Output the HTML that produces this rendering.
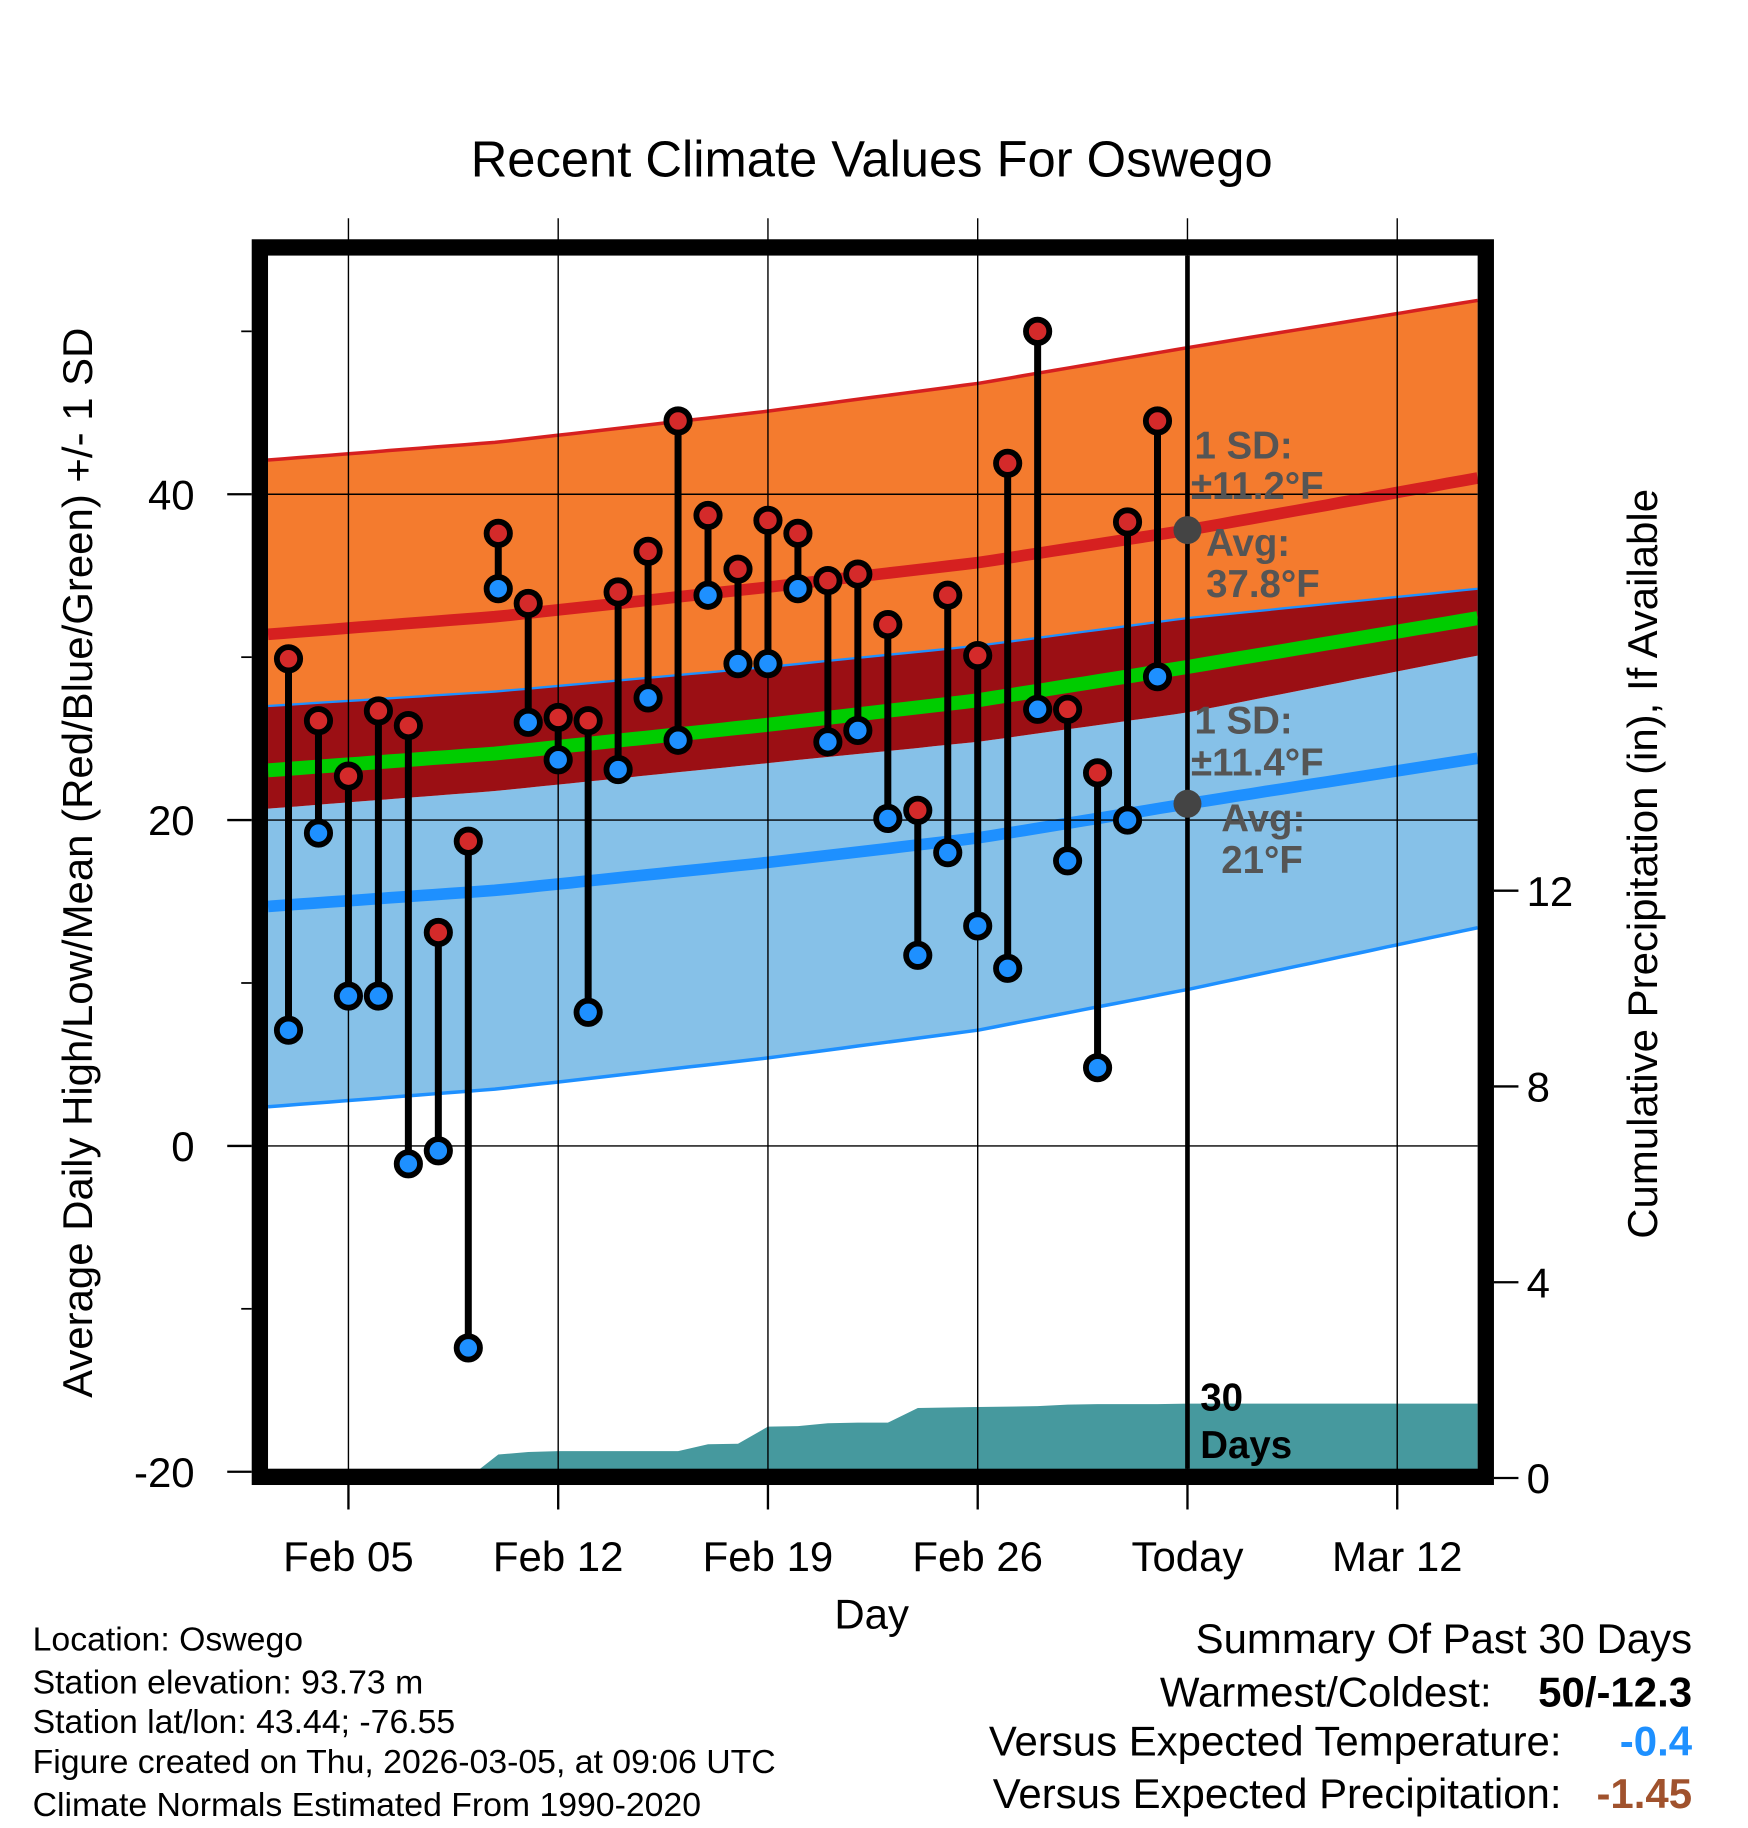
<!DOCTYPE html>
<html><head><meta charset="utf-8"><style>
html,body{margin:0;padding:0;background:#fff;}
svg{display:block;font-family:"Liberation Sans",sans-serif;}
</style></head><body>
<svg id="chart" xmlns="http://www.w3.org/2000/svg" width="1748" height="1828" viewBox="0 0 1500 1568">
<rect width="1500" height="1568" fill="#fff"/>
<g id="bands"></g>
<g id="precip"></g>
<g id="grid"></g>
<g id="marks"></g>
<g id="axes"></g>
<text x="748" y="151" font-size="43.5" text-anchor="middle">Recent Climate Values For Oswego</text>
<text x="748" y="1397" font-size="36" text-anchor="middle">Day</text>
<text transform="translate(79,740) rotate(-90)" font-size="36" text-anchor="middle">Average Daily High/Low/Mean (Red/Blue/Green) +/- 1 SD</text>
<text transform="translate(1422,741) rotate(-90)" font-size="36" text-anchor="middle">Cumulative Precipitation (in), If Available</text>
<g font-size="33" font-weight="bold" fill="#555">
<text x="1025" y="393">1 SD:</text><text x="1022" y="428">±11.2°F</text>
<text x="1035" y="477">Avg:</text><text x="1035" y="512">37.8°F</text></g>
<g font-size="33" font-weight="bold" fill="#555">
<text x="1025" y="629">1 SD:</text><text x="1022" y="665">±11.4°F</text>
<text x="1048" y="713">Avg:</text><text x="1048" y="749">21°F</text></g>
<g font-size="33" font-weight="bold" fill="#000">
<text x="1030" y="1210">30</text><text x="1030" y="1251">Days</text></g>
<g font-size="29">
<text x="28" y="1416">Location: Oswego</text>
<text x="28" y="1453">Station elevation: 93.73 m</text>
<text x="28" y="1487">Station lat/lon: 43.44; -76.55</text>
<text x="28" y="1521">Figure created on Thu, 2026-03-05, at 09:06 UTC</text>
<text x="28" y="1558">Climate Normals Estimated From 1990-2020</text></g>
<g font-size="36">
<text x="1452" y="1418" text-anchor="end">Summary Of Past 30 Days</text>
<text x="1280" y="1464" text-anchor="end">Warmest/Coldest:</text>
<text x="1452" y="1464" text-anchor="end" font-weight="bold">50/-12.3</text>
<text x="1340" y="1506" text-anchor="end">Versus Expected Temperature:</text>
<text x="1452" y="1506" text-anchor="end" font-weight="bold" fill="#1e90ff">-0.4</text>
<text x="1340" y="1551" text-anchor="end">Versus Expected Precipitation:</text>
<text x="1452" y="1551" text-anchor="end" font-weight="bold" fill="#a0522d">-1.45</text></g>
</svg>
<script>
const days = [3,4,5,6,7,8,9,10,11,12,13,14,15,16,17,18,19,20,21,22,23,24,25,26,27,28,29,30,31,32];
const highs = [29.9,26.1,22.7,26.7,25.8,13.1,18.7,37.6,33.3,26.3,26.1,34.0,36.5,44.5,38.7,35.4,38.4,37.6,34.7,35.1,32.0,20.6,33.8,30.1,41.9,50.0,26.8,22.9,38.3,44.5];
const lows = [7.1,19.2,9.2,9.2,-1.1,-0.3,-12.4,34.2,26.0,23.7,8.2,23.1,27.5,24.9,33.8,29.6,29.6,34.2,24.8,25.5,20.1,11.7,18.0,13.5,10.9,26.8,17.5,4.8,20.0,28.8];
const normDays = [2.3,10,19,26,33,42.7];
const normHigh = [31.4,32.5,34.3,35.8,37.8,41.0];
const sdHigh = [10.7,10.7,10.8,11.0,11.2,10.9];
const normLow = [14.7,15.7,17.4,18.9,21.0,23.8];
const sdLow = [12.3,12.2,12.0,11.8,11.4,10.4];
const precipDays = [3,4,5,6,7,8,9,10,11,12,13,14,15,16,17,18,19,20,21,22,23,24,25,26,27,28,29,30,31,32,33];
const precipVals = [0,0,0,0,0,0,0,0.48,0.53,0.55,0.55,0.55,0.55,0.55,0.69,0.70,1.05,1.06,1.12,1.13,1.13,1.43,1.44,1.45,1.46,1.47,1.50,1.51,1.51,1.51,1.52];
const xTickDays = [5,12,19,26,33,40];
const xTickLabels = ["Feb 05","Feb 12","Feb 19","Feb 26","Today","Mar 12"];
const yTicks = [-20,0,20,40];
const yMinor = [-10,10,30,50];
const pTicks = [0,4,8,12];

const NS="http://www.w3.org/2000/svg";
const L=230,R=1268,T=219,B=1260;
const x=d=>299+(d-5)*25.714;
const y=v=>983-13.98*v;
const yp=p=>1268-42*p;
const dStart=(L-299)/25.714+5, dEnd=(R-299)/25.714+5;
function mk(tag,attrs,parent){const e=document.createElementNS(NS,tag);for(const k in attrs)e.setAttribute(k,attrs[k]);parent.appendChild(e);return e;}
function interp(arr,d){for(let i=0;i<normDays.length-1;i++){if(d<=normDays[i+1]||i==normDays.length-2){const t=(d-normDays[i])/(normDays[i+1]-normDays[i]);return arr[i]+t*(arr[i+1]-arr[i]);}}}
const samp=[];for(let i=0;i<=80;i++)samp.push(dStart+(dEnd-dStart)*i/80);
const hi=d=>interp(normHigh,d), lo=d=>interp(normLow,d), sh=d=>interp(sdHigh,d), sl=d=>interp(sdLow,d);
function area(f1,f2){let s=samp.map((d,i)=>(i?'L':'M')+x(d).toFixed(1)+','+y(f1(d)).toFixed(1)).join('');s+=samp.slice().reverse().map(d=>'L'+x(d).toFixed(1)+','+y(f2(d)).toFixed(1)).join('');return s+'Z';}
function line(f){return samp.map((d,i)=>(i?'L':'M')+x(d).toFixed(1)+','+y(f(d)).toFixed(1)).join('');}
const bands=document.getElementById('bands');
let e;
e=mk('path',{d:area(d=>hi(d)+sh(d),d=>lo(d)+sl(d)),fill:'#f47b2e'},bands);


e=mk('path',{d:area(d=>hi(d)-sh(d),d=>lo(d)-sl(d)),fill:'#86c1e8'},bands);


e=mk('path',{d:area(d=>lo(d)+sl(d),d=>hi(d)-sh(d)),fill:'#9b0f14'},bands);


e=mk('path',{d:line(d=>hi(d)+sh(d)),fill:'none',stroke:'#d62020','stroke-width':3},bands);


e=mk('path',{d:line(d=>lo(d)+sl(d)),fill:'none',stroke:'#1e90ff','stroke-width':2},bands);


e=mk('path',{d:line(d=>lo(d)-sl(d)),fill:'none',stroke:'#1e90ff','stroke-width':3},bands);


e=mk('path',{d:line(hi),fill:'none',stroke:'#d62020','stroke-width':10},bands);


e=mk('path',{d:line(lo),fill:'none',stroke:'#1e90ff','stroke-width':10},bands);


e=mk('path',{d:line(d=>(hi(d)+lo(d))/2),fill:'none',stroke:'#00cc00','stroke-width':12},bands);


const pg=document.getElementById('precip');
let pd='M'+x(precipDays[0])+','+yp(0);
precipDays.forEach((d,i)=>{pd+='L'+x(d).toFixed(1)+','+yp(precipVals[i]).toFixed(1);});
pd+='L'+R+','+yp(precipVals[precipVals.length-1]).toFixed(1)+'L'+R+','+yp(0)+'Z';
e=mk('path',{d:pd,fill:'#46999e'},pg);


const gg=document.getElementById('grid');
xTickDays.forEach(d=>{e=mk('line',{x1:x(d),x2:x(d),y1:187,y2:1275,stroke:'#000','stroke-width':1.2},gg);

});
[0,20,40].forEach(v=>{e=mk('line',{x1:L,x2:R,y1:y(v),y2:y(v),stroke:'#000','stroke-width':1.2},gg);

});
e=mk('line',{x1:x(33),x2:x(33),y1:T,y2:B,stroke:'#000','stroke-width':4},gg);


e=mk('circle',{cx:x(33),cy:y(37.8),r:12,fill:'#444'},gg);


e=mk('circle',{cx:x(33),cy:y(21),r:12,fill:'#444'},gg);


const mg=document.getElementById('marks');
days.forEach((d,i)=>{
 e=mk('line',{x1:x(d),x2:x(d),y1:y(highs[i]),y2:y(lows[i]),stroke:'#000','stroke-width':6},mg);
 
 
 e=mk('circle',{cx:x(d),cy:y(highs[i]),r:10,fill:'#d42a2a',stroke:'#000','stroke-width':5},mg);
 
 
 e=mk('circle',{cx:x(d),cy:y(lows[i]),r:10,fill:'#1e90ff',stroke:'#000','stroke-width':5},mg);
 
 
});
const ag=document.getElementById('axes');
e=mk('rect',{x:223,y:212,width:1052,height:1055,fill:'none',stroke:'#000','stroke-width':14},ag);


yTicks.forEach(v=>{
 e=mk('line',{x1:195,x2:216,y1:y(v),y2:y(v),stroke:'#000','stroke-width':2},ag);
 
 
 e=mk('text',{x:167,y:y(v)+13,'font-size':36,'text-anchor':'end'},ag);e.textContent=v;
 
 
});
yMinor.forEach(v=>{e=mk('line',{x1:207,x2:216,y1:y(v),y2:y(v),stroke:'#000','stroke-width':1.5},ag);
 
 });
pTicks.forEach(p=>{
 e=mk('line',{x1:1282,x2:1303,y1:yp(p),y2:yp(p),stroke:'#000','stroke-width':2},ag);
 
 
 e=mk('text',{x:1310,y:yp(p)+13,'font-size':36},ag);e.textContent=p;
 
 
});
xTickDays.forEach((d,i)=>{
 e=mk('line',{x1:x(d),x2:x(d),y1:1274,y2:1295,stroke:'#000','stroke-width':2},ag);
 
 
 e=mk('text',{x:x(d),y:1348,'font-size':36,'text-anchor':'middle'},ag);e.textContent=xTickLabels[i];
 
 
});
</script>
</body></html>
